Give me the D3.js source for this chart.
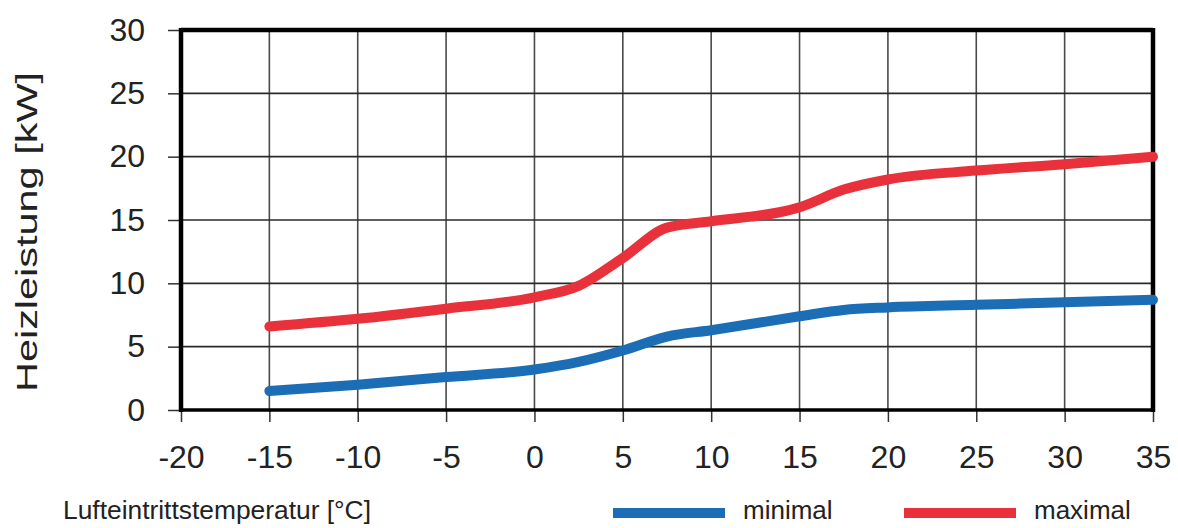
<!DOCTYPE html>
<html>
<head>
<meta charset="utf-8">
<script src="https://cdn.jsdelivr.net/npm/d3@7"></script>
<style>
  body { margin: 0; background: #fff; }
  text { font-family: "Liberation Sans", Arial, sans-serif; fill: #222; }
</style>
</head>
<body>
<svg id="chart" width="1178" height="528"></svg>
<script>
// Data
var temps = [-15, -10, -5, 0, 2.5, 5, 7.5, 10, 15, 17.5, 20, 25, 30, 35];
var minimal = [1.5, 2.0, 2.6, 3.2, 3.8, 4.7, 5.8, 6.3, 7.4, 7.9, 8.1, 8.3, 8.5, 8.7];
var maximal = [6.6, 7.2, 8.0, 8.9, 9.8, 12.0, 14.4, 14.9, 16.0, 17.4, 18.2, 18.9, 19.4, 20.0];
var xTicks = [-20, -15, -10, -5, 0, 5, 10, 15, 20, 25, 30, 35];
var yTicks = [0, 5, 10, 15, 20, 25, 30];
var seriesNames = ["minimal", "maximal"];
var seriesColors = ["#1b6db5", "#e8313b"];

var svg = d3.select("#chart");
var margin = { left: 181, top: 30, right: 25, bottom: 118 };
var width = 1178 - margin.left - margin.right;
var height = 528 - margin.top - margin.bottom;

var x = d3.scaleLinear().domain([-20, 35]).range([0, width]);
var y = d3.scaleLinear().domain([0, 30]).range([height, 0]);

var g = svg.append("g").attr("transform", "translate(" + margin.left + "," + margin.top + ")");

// grid
g.selectAll(".vgrid").data(xTicks.slice(1, -1)).enter().append("line")
  .attr("x1", function(d) { return x(d); }).attr("x2", function(d) { return x(d); })
  .attr("y1", 0).attr("y2", height)
  .style("stroke", "#4a4a4a").style("stroke-width", 1.6);
g.selectAll(".hgrid").data(yTicks.slice(1, -1)).enter().append("line")
  .attr("x1", 0).attr("x2", width)
  .attr("y1", function(d) { return y(d); }).attr("y2", function(d) { return y(d); })
  .style("stroke", "#2a2a2a").style("stroke-width", 1.6);

// axes (plain hyphen for negatives, as in the original)
var xAxis = g.append("g").attr("transform", "translate(0," + height + ")")
  .call(d3.axisBottom(x).tickValues(xTicks).tickFormat(String).tickSize(12).tickPadding(23));
var yAxis = g.append("g")
  .call(d3.axisLeft(y).tickValues(yTicks).tickFormat(String).tickSize(13).tickPadding(23));
[xAxis, yAxis].forEach(function(a) {
  a.select(".domain").remove();
  a.selectAll(".tick line").style("stroke", "#333").style("stroke-width", 1.5);
  a.selectAll(".tick text").style("font-size", "32px").style("fill", "#222")
    .style("font-family", "'Liberation Sans', Arial, sans-serif");
});

// frame
g.append("line").attr("x1", 0).attr("x2", width).attr("y1", 0).attr("y2", 0)
  .style("stroke", "#000").style("stroke-width", 4.5);
g.append("line").attr("x1", 0).attr("x2", width).attr("y1", height).attr("y2", height)
  .style("stroke", "#000").style("stroke-width", 3.5);
g.append("line").attr("x1", 0).attr("x2", 0).attr("y1", -2).attr("y2", height + 2)
  .style("stroke", "#000").style("stroke-width", 4.5);
g.append("line").attr("x1", width).attr("x2", width).attr("y1", -2).attr("y2", height + 2)
  .style("stroke", "#000").style("stroke-width", 4.5);

// lines
var line = d3.line()
  .x(function(d) { return x(d[0]); })
  .y(function(d) { return y(d[1]); })
  .curve(d3.curveMonotoneX);

[minimal, maximal].forEach(function(vals, i) {
  g.append("path")
    .datum(temps.map(function(t, j) { return [t, vals[j]]; }))
    .attr("d", line)
    .style("fill", "none")
    .style("stroke", seriesColors[i])
    .style("stroke-width", 10)
    .style("stroke-linecap", "round");
});

// axis titles
svg.append("text")
  .attr("transform", "translate(37,232) rotate(-90)")
  .attr("text-anchor", "middle")
  .attr("textLength", 320).attr("lengthAdjust", "spacingAndGlyphs")
  .style("font-size", "30px")
  .text("Heizleistung [kW]");

svg.append("text")
  .attr("x", 63).attr("y", 519)
  .attr("textLength", 308).attr("lengthAdjust", "spacingAndGlyphs")
  .style("font-size", "26px")
  .text("Lufteintrittstemperatur [°C]");

// legend
var legendX = [613, 904];
seriesNames.forEach(function(name, i) {
  svg.append("line")
    .attr("x1", legendX[i]).attr("x2", legendX[i] + 112)
    .attr("y1", 513).attr("y2", 513)
    .style("stroke", seriesColors[i]).style("stroke-width", 10);
  svg.append("text")
    .attr("x", legendX[i] + 130).attr("y", 519)
    .style("font-size", "26px")
    .text(name);
});
</script>
</body>
</html>
